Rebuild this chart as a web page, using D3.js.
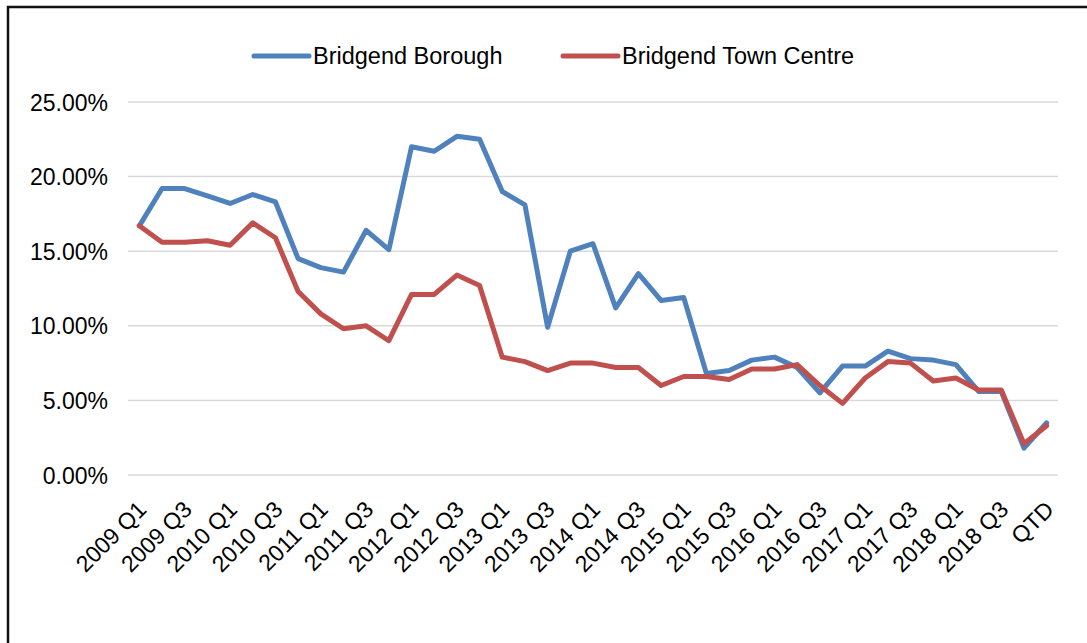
<!DOCTYPE html>
<html>
<head>
<meta charset="utf-8">
<script src="https://cdn.jsdelivr.net/npm/d3@7"></script>
<style>
  body { margin: 0; background: #fff; }
  text { font-family: "Liberation Sans", Arial, sans-serif; fill: #000; }
</style>
</head>
<body>
<div id="chart"></div>
<script>
// categories (quarters)
var quarters = ["2009 Q1","2009 Q2","2009 Q3","2009 Q4","2010 Q1","2010 Q2","2010 Q3","2010 Q4",
  "2011 Q1","2011 Q2","2011 Q3","2011 Q4","2012 Q1","2012 Q2","2012 Q3","2012 Q4",
  "2013 Q1","2013 Q2","2013 Q3","2013 Q4","2014 Q1","2014 Q2","2014 Q3","2014 Q4",
  "2015 Q1","2015 Q2","2015 Q3","2015 Q4","2016 Q1","2016 Q2","2016 Q3","2016 Q4",
  "2017 Q1","2017 Q2","2017 Q3","2017 Q4","2018 Q1","2018 Q2","2018 Q3","2018 Q4","QTD"];

// vacancy rates, percent
var borough = [16.7,19.2,19.2,18.7,18.2,18.8,18.3,14.5,13.9,13.6,16.4,15.1,22.0,21.7,22.7,22.5,
  19.0,18.1,9.9,15.0,15.5,11.2,13.5,11.7,11.9,6.8,7.0,7.7,7.9,7.2,5.5,7.3,7.3,8.3,7.8,7.7,7.4,5.6,5.6,1.8,3.5];
var townCentre = [16.7,15.6,15.6,15.7,15.4,16.9,15.9,12.3,10.8,9.8,10.0,9.0,12.1,12.1,13.4,12.7,
  7.9,7.6,7.0,7.5,7.5,7.2,7.2,6.0,6.6,6.6,6.4,7.1,7.1,7.4,6.0,4.8,6.5,7.6,7.5,6.3,6.5,5.7,5.7,2.1,3.3];

var seriesNames = ["Bridgend Borough", "Bridgend Town Centre"];
var yTicks = [0, 0.05, 0.10, 0.15, 0.20, 0.25];

var width = 1087, height = 643;
var colors = ["#4F81BD", "#C0504D"];

var svg = d3.select("#chart").append("svg")
    .attr("width", width)
    .attr("height", height);

// frame (left + top only)
svg.append("path")
    .attr("d", "M8,643 L8,7 L1087,7")
    .attr("fill", "none")
    .attr("stroke", "#111")
    .attr("stroke-width", 2.5);

var x = d3.scalePoint()
    .domain(quarters)
    .range([128, 1058])
    .padding(0.5);

var y = d3.scaleLinear()
    .domain([0, 0.25])
    .range([475, 102]);

// gridlines
svg.append("g").selectAll("line")
    .data(yTicks)
    .enter().append("line")
    .attr("x1", 128).attr("x2", 1058)
    .attr("y1", function(d) { return y(d); })
    .attr("y2", function(d) { return y(d); })
    .attr("stroke", "#D9D9D9")
    .attr("stroke-width", 1.5);

// y axis labels
var yAxis = svg.append("g")
    .attr("transform", "translate(108,0)")
    .call(d3.axisLeft(y).tickValues(yTicks).tickFormat(d3.format(".2%")).tickSize(0).tickPadding(0));
yAxis.select(".domain").remove();
yAxis.selectAll("text")
    .style("font-size", "23px")
    .style("font-family", "Liberation Sans, Arial, sans-serif")
    .attr("dy", "0.35em");

// x axis labels, every other quarter
var xAxis = svg.append("g")
    .attr("transform", "translate(0,475)")
    .call(d3.axisBottom(x)
      .tickValues(quarters.filter(function(d, i) { return i % 2 === 0; }))
      .tickSize(0));
xAxis.select(".domain").remove();
xAxis.selectAll("text")
    .style("font-size", "23px")
    .style("font-family", "Liberation Sans, Arial, sans-serif")
    .attr("text-anchor", "end")
    .attr("x", 0).attr("y", 0).attr("dy", 0)
    .attr("transform", "translate(8,36) rotate(-45)");

// lines
var allSeries = [borough, townCentre];
var line = d3.line()
    .x(function(d, i) { return x(quarters[i]); })
    .y(function(d) { return y(d / 100); });

svg.append("g").selectAll("path")
    .data(allSeries)
    .enter().append("path")
    .attr("d", line)
    .attr("fill", "none")
    .attr("stroke", function(d, i) { return colors[i]; })
    .attr("stroke-width", 5)
    .attr("stroke-linejoin", "round")
    .attr("stroke-linecap", "round");

// legend
var legendX = [254, 563];
var legend = svg.append("g").selectAll("g")
    .data(seriesNames)
    .enter().append("g")
    .attr("transform", function(d, i) { return "translate(" + legendX[i] + ",56)"; });
legend.append("line")
    .attr("x1", 0).attr("x2", 55)
    .attr("stroke", function(d, i) { return colors[i]; })
    .attr("stroke-width", 5)
    .attr("stroke-linecap", "round");
legend.append("text")
    .attr("x", 59)
    .attr("dy", "0.35em")
    .style("font-size", "23.5px")
    .text(function(d) { return d; });
</script>
</body>
</html>
